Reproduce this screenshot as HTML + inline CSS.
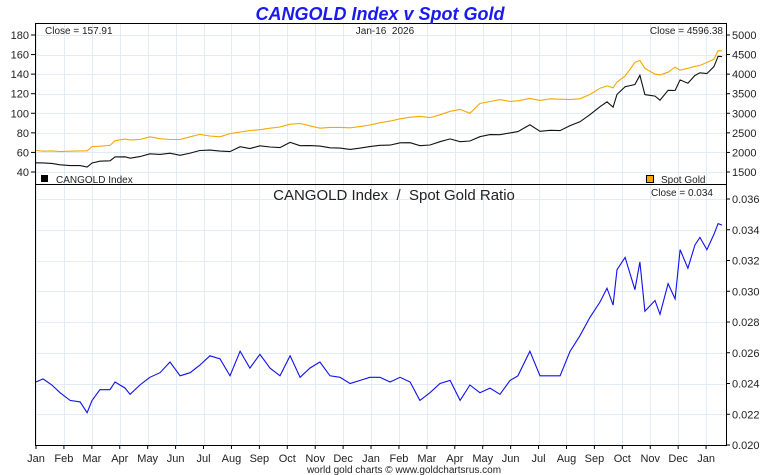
<!DOCTYPE html>
<html><head><meta charset="utf-8"><style>
body{margin:0;background:#fff;width:760px;height:475px;overflow:hidden}
svg{display:block;font-family:"Liberation Sans",sans-serif}
</style></head><body>
<svg id="c" width="760" height="475"></svg>
<script>
const monthLabels=["Jan","Feb","Mar","Apr","May","Jun","Jul","Aug","Sep","Oct","Nov","Dec","Jan","Feb","Mar","Apr","May","Jun","Jul","Aug","Sep","Oct","Nov","Dec","Jan"];
const leftTicks=[40,60,80,100,120,140,160,180];
const rightTicks=[1500,2000,2500,3000,3500,4000,4500,5000];
const ratioTicks=[0.020,0.022,0.024,0.026,0.028,0.030,0.032,0.034,0.036];
// time in months since Jan 2024
const tMonths=[0,0.25,0.57,0.86,1.22,1.58,1.83,2.01,2.29,2.65,2.83,3.19,3.37,3.72,4.08,4.44,4.8,5.16,5.52,5.87,6.23,6.59,6.95,7.31,7.66,8.02,8.38,8.74,9.1,9.46,9.81,10.17,10.53,10.89,11.25,11.61,11.96,12.32,12.68,13.04,13.4,13.75,14.11,14.47,14.83,15.19,15.54,15.9,16.26,16.62,16.98,17.26,17.69,18.05,18.41,18.77,19.13,19.48,19.84,20.2,20.45,20.67,20.81,21.1,21.45,21.63,21.81,22.17,22.35,22.64,22.89,23.07,23.35,23.6,23.78,24.03,24.28,24.43,24.57];
const ratio=[.0241,.0243,.0239,.0234,.0229,.0228,.0221,.0229,.0236,.0236,.0241,.0237,.0233,.0239,.0244,.0247,.0254,.0245,.0247,.0252,.0258,.0256,.0245,.0261,.0250,.0259,.0250,.0245,.0258,.0244,.0250,.0254,.0245,.0244,.0240,.0242,.0244,.0244,.0241,.0244,.0241,.0229,.0234,.0240,.0242,.0229,.0239,.0234,.0237,.0233,.0242,.0245,.0261,.0245,.0245,.0245,.0261,.0271,.0283,.0293,.0302,.0291,.0314,.0322,.0301,.0319,.0287,.0294,.0285,.0305,.0295,.0327,.0315,.0330,.0335,.0327,.0337,.0344,.0343];
const gold=[2050,2030,2040,2020,2030,2040,2040,2150,2160,2180,2300,2340,2320,2330,2400,2350,2330,2330,2400,2460,2420,2400,2480,2520,2560,2580,2620,2650,2720,2740,2680,2620,2640,2640,2630,2660,2700,2760,2800,2860,2900,2920,2890,2960,3050,3100,3000,3250,3300,3350,3300,3320,3380,3330,3370,3360,3350,3370,3480,3640,3700,3650,3800,3950,4300,4350,4150,4000,3980,4050,4180,4100,4150,4200,4220,4300,4380,4600,4596];
const cangold=[49.4,49.3,48.8,47.3,46.5,46.5,45.1,49.2,51.0,51.4,55.4,55.5,54.1,55.7,58.6,58.0,59.2,57.1,59.3,62.0,62.4,61.4,60.8,65.8,64.0,66.8,65.5,64.9,70.2,66.9,67.0,66.5,64.7,64.4,63.1,64.4,65.9,67.3,67.5,69.8,69.9,66.9,67.6,71.0,73.8,71.0,71.7,76.1,78.2,78.1,79.9,81.3,88.2,81.6,82.6,82.3,87.4,91.3,98.5,106.7,111.7,106.2,119.3,127.2,129.4,138.8,119.1,117.6,113.4,123.5,123.3,134.1,130.7,138.6,141.4,140.6,147.6,158.2,157.9];

const NS="http://www.w3.org/2000/svg";
const svg=document.getElementById('c');
function mk(tag,a,parent){const e=document.createElementNS(NS,tag);for(const k in a)e.setAttribute(k,a[k]);(parent||svg).appendChild(e);return e;}
const X0=35,X1=726,TOP0=23,MID=184,BOT=445;
const xm=m=>36+m*27.92;
const yL=v=>35+(180-v)*19.57/20;
const yR=v=>35+(5000-v)*19.57/500;
const yQ=v=>445-(v-0.020)/0.002*30.75;

const grid=mk('g',{stroke:'#e2ecf7','stroke-width':1});


monthLabels.forEach((m,i)=>{const x=Math.round(xm(i))+.5;mk('line',{x1:x,x2:x,y1:TOP0,y2:BOT},grid);});
leftTicks.forEach(v=>{const y=Math.round(yL(v))+.5;mk('line',{x1:X0,x2:X1,y1:y,y2:y},grid);});
ratioTicks.forEach(v=>{const y=Math.round(yQ(v))+.5;if(y<BOT)mk('line',{x1:X0,x2:X1,y1:y,y2:y},grid);});

const fr=mk('rect',{x:X0+.5,y:TOP0+.5,width:X1-X0,height:BOT-TOP0,fill:'none',stroke:'#000','stroke-width':1});


mk('line',{x1:X0,x2:X1,y1:MID+.5,y2:MID+.5,stroke:'#000'});

function txt(s,x,y,a,parent){const t=mk('text',Object.assign({x:x,y:y,'font-size':11,fill:'#222'},a||{}),parent);t.textContent=s;return t;}
const la=mk('g',{});
leftTicks.forEach(v=>{const y=yL(v);mk('line',{x1:31,x2:35,y1:y,y2:y,stroke:'#000'},la);txt(String(v),29,y+4,{'text-anchor':'end'},la);});
const ra=mk('g',{});
rightTicks.forEach(v=>{const y=yR(v);mk('line',{x1:726,x2:730,y1:y,y2:y,stroke:'#000'},ra);txt(String(v),732,y+4,{},ra);});
const qa=mk('g',{});
ratioTicks.forEach(v=>{const y=yQ(v);mk('line',{x1:726,x2:730,y1:y,y2:y,stroke:'#000'},qa);txt(v.toFixed(3),732,y+4,{},qa);});
const xa=mk('g',{});
monthLabels.forEach((m,i)=>{const x=xm(i);mk('line',{x1:x,x2:x,y1:445,y2:449,stroke:'#000'},xa);txt(m,x,462,{'text-anchor':'middle','font-size':11},xa);});

function path(vals,yf,color,name){const d=vals.map((v,i)=>(i?'L':'M')+xm(tMonths[i]).toFixed(1)+','+yf(v).toFixed(1)).join('');const p=mk('path',{d:d,fill:'none',stroke:color,'stroke-width':1.1});}
path(gold,yR,'#f5a800','spot-gold-line');
path(cangold,yL,'#111','cangold-line');
path(ratio,yQ,'#1010ee','ratio-line');

const ti=txt('CANGOLD Index v Spot Gold',380,20,{'text-anchor':'middle','font-size':18,'font-weight':'bold','font-style':'italic',fill:'#1a1aee'});

txt('Close = 157.91',45,34,{'font-size':10});
txt('Jan-16\u00a0 2026',385,34,{'font-size':10,'text-anchor':'middle'});
txt('Close = 4596.38',723,34,{'font-size':10,'text-anchor':'end'});
txt('Close = 0.034',713,196,{'font-size':10,'text-anchor':'end'});
const st=txt('CANGOLD Index\u00a0 /\u00a0 Spot Gold Ratio',394,200,{'font-size':15,'text-anchor':'middle'});

const l1=mk('g',{});
mk('rect',{x:41,y:175,width:7,height:7,fill:'#000'},l1);txt('CANGOLD Index',56,183,{'font-size':10},l1);
const l2=mk('g',{});
mk('rect',{x:646.5,y:175.5,width:7,height:7,fill:'#f5a800',stroke:'#000'},l2);txt('Spot Gold',661,183,{'font-size':10},l2);
const ft=txt('world gold charts © www.goldchartsrus.com',404,473,{'font-size':10,'text-anchor':'middle'});

</script>
</body></html>
